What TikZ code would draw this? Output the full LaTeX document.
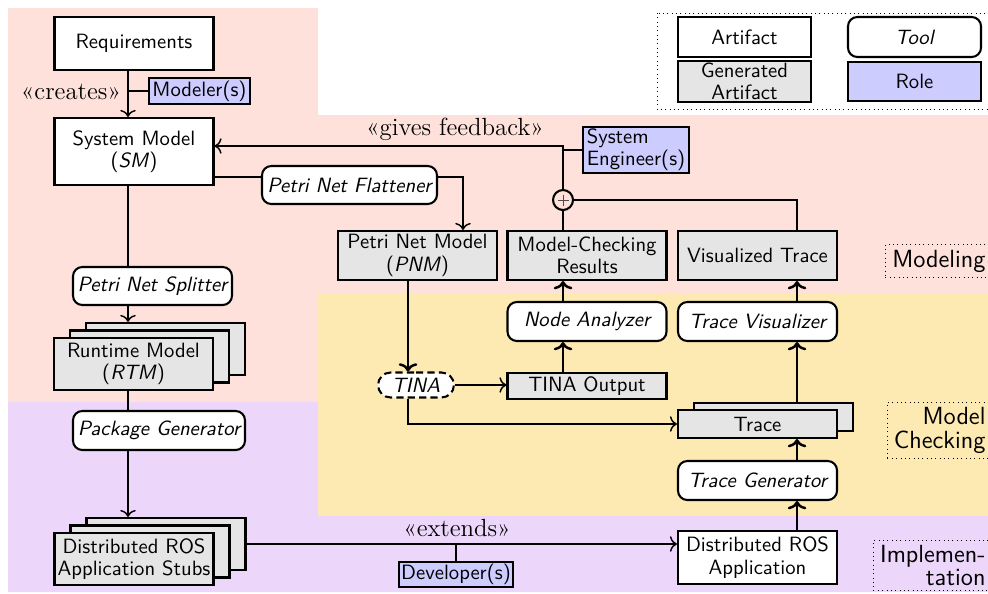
\documentclass[tikz,border=0pt]{standalone}
\usetikzlibrary{calc,shapes.misc,arrows.meta}
\pgfdeclarelayer{regions}
\pgfdeclarelayer{edges}
\pgfsetlayers{regions,edges,main}

\definecolor{modelbg}{RGB}{253,225,218}
\definecolor{checkbg}{RGB}{253,234,178}
\definecolor{implbg}{RGB}{236,214,250}
\definecolor{rolefill}{RGB}{204,204,255}
\definecolor{genfill}{RGB}{229,229,229}

\newcommand{\pxu}{0.017cm}
\newcommand{\nodefont}{\sffamily\fontsize{10}{10.8}\selectfont}

\tikzset{
  sz/.style 2 args={minimum width=#1*\pxu, minimum height=#2*\pxu},
  box/.style={draw, line width=1pt, font=\nodefont, align=center, inner sep=1pt},
  artifact/.style={box, fill=white},
  generated/.style={box, fill=genfill},
  tool/.style={box, fill=white, rounded corners=4.5pt, font=\nodefont\itshape},
  role/.style={box, fill=rolefill},
  link/.style={line width=0.7pt},
  flow/.style={link, -{To[length=3.4pt,width=7.5pt]}},
  mainflow/.style={line width=1.2pt, -{To[length=4pt,width=9pt]}},
  stereo/.style={font=\fontsize{12}{14}\selectfont, inner sep=0pt},
  dots/.style={line width=0.45pt, dash pattern=on 0.45pt off 1.65pt},
  phase/.style={draw, dots, font=\sffamily\fontsize{12}{11.5}\selectfont,
    align=right, inner xsep=5*\pxu, inner ysep=0pt, anchor=north west},
}

\begin{document}
\begin{tikzpicture}[x=\pxu, y=-\pxu]
\useasboundingbox (0,0) rectangle (988,593);

% guide columns and rows for the connectors
\coordinate (spineL) at (128,0);
\coordinate (colF) at (463,0);
\coordinate (colP) at (408,0);
\coordinate (colM) at (563,0);
\coordinate (colV) at (797,0);
\coordinate (fbrow) at (0,146);
\coordinate (flrow) at (0,177);

% legend
\draw[dots] (657,13) rectangle (990,109);
\node[artifact, sz={133}{40}] (lgArt) at (744.5,37) {Artifact};
\node[tool, sz={133}{40}] (lgTool) at (914.5,37) {Tool};
\node[generated, sz={133}{39}] (lgGen) at (744.5,81.5) {Generated\\Artifact};
\node[role, sz={133}{39}] (lgRole) at (914.5,81.5) {Role};

% modeling phase
\node[artifact, sz={159}{53}] (req) at (134,43.5) {Requirements};
\node[role, sz={101}{26}] (modeler) at (199.5,91) {Modeler(s)};
\node[artifact, sz={159}{67}] (sm) at (134,151.5) {System Model\\(\textit{SM})};
\node[tool, sz={175}{38}] (flat) at (349.5,185) {Petri Net Flattener};
\node[role, sz={106}{46}, align=left] (eng) at (636,150) {System\\Engineer(s)};
\node[circle, draw, line width=1pt, minimum size=20*\pxu, inner sep=0pt] (plus) at (563,200) {};
\draw[line width=0.4pt, black!70] ($(plus)+(-5.5,0)$) -- ($(plus)+(5.5,0)$)
  ($(plus)+(0,-5.5)$) -- ($(plus)+(0,5.5)$);
\node[generated, sz={159}{49}] (pnm) at (417.5,255.5) {Petri Net Model\\(\textit{PNM})};
\node[generated, sz={159}{49}] (mcr) at (587,255.5) {Model-Checking\\Results};
\node[generated, sz={159}{49}] (vt) at (757.5,255.5) {Visualized Trace};
\node[tool, sz={159}{38}] (split) at (152.5,286) {Petri Net Splitter};

% runtime model stack
\node[generated, sz={159}{52}] (rtm3) at (165.5,349) {};
\node[generated, sz={159}{52}] (rtm2) at (149.5,356.5) {};
\node[generated, sz={159}{52}] (rtm) at (133.5,364) {Runtime Model\\(\textit{RTM})};

% implementation phase
\node[tool, sz={172}{39}] (pkg) at (159,430.5) {Package Generator};
\node[generated, sz={159}{52}] (stubs3) at (166,544) {};
\node[generated, sz={159}{52}] (stubs2) at (150,551.5) {};
\node[generated, sz={159}{52}] (stubs) at (134,559) {Distributed ROS\\Application Stubs};
\node[role, sz={112}{25}] (dev) at (456,574.5) {Developer(s)};
\node[artifact, sz={159}{53}] (dra) at (757.5,557.5) {Distributed ROS\\Application};

% model checking phase
\node[tool, sz={159}{39}] (tgen) at (757.5,480.5) {Trace Generator};
\node[generated, sz={159}{28}] (trace2) at (773.5,417) {};
\node[generated, sz={159}{28}] (trace) at (757.5,424) {Trace};
\node[tool, sz={159}{39}] (tvis) at (757.5,321.5) {Trace Visualizer};
\node[tool, sz={159}{39}] (nana) at (587,321.5) {Node Analyzer};
\node[generated, sz={159}{26}] (tout) at (587,386) {TINA Output};
\node[rounded rectangle, draw, dash pattern=on 3.5pt off 2pt, line width=1pt, fill=white,
  font=\nodefont\itshape, sz={80}{25}, inner sep=1pt] (tina) at (416,385) {TINA};

% phase labels
\node[phase, text width=95*\pxu, minimum height=33*\pxu] (phMod) at (885,244) {Modeling};
\node[phase, text width=93*\pxu, minimum height=56*\pxu] (phChk) at (887,402) {Model\\Checking};
\node[phase, text width=107*\pxu, minimum height=50*\pxu] (phImp) at (873,540) {Implemen-\\tation};

% stereotypes
\node[stereo] (lblCreates) at (71,92) {«creates»};
\node[stereo] (lblFeedback) at (455,129) {«gives feedback»};
\node[stereo] (lblExtends) at (457,528) {«extends»};

\begin{pgfonlayer}{edges}
\draw[flow] (req.south -| spineL) -- (sm.north -| spineL);
\draw[link] (modeler.west) -- (modeler.west -| spineL);
\draw[flow] (sm.east |- flrow) -- (colF |- flrow) -- (colF |- pnm.north);
\draw[flow] (plus.north) -- (plus |- fbrow) -- (sm.east |- fbrow);
\draw[link] (eng.west) -- (eng.west -| plus);
\draw[link] (plus.south) -- (plus |- mcr.north);
\draw[link] (plus.east) -- (colV |- plus) -- (colV |- vt.north);
\draw[flow] (sm.south -| spineL) -- (rtm3.north -| spineL);
\draw[flow] (rtm.south -| spineL) -- (stubs3.north -| spineL);
\draw[flow] (stubs3.east) -- (stubs3.east -| dra.west);
\draw[link] (dev.north) -- (dev.north |- stubs3.east);
\draw[mainflow] (pnm.south -| colP) -- (tina.north -| colP);
\draw[flow] (tina.east) -- (tina.east -| tout.west);
\draw[flow] (tina.south -| colP) -- (colP |- trace.west) -- (trace.west);
\draw[mainflow] (tout.north -| colM) -- (nana.south -| colM);
\draw[mainflow] (nana.north -| colM) -- (mcr.south -| colM);
\draw[mainflow] (dra.north -| colV) -- (tgen.south -| colV);
\draw[mainflow] (tgen.north -| colV) -- (trace.south -| colV);
\draw[mainflow] (trace2.north -| colV) -- (tvis.south -| colV);
\draw[mainflow] (tvis.north -| colV) -- (vt.south -| colV);
\end{pgfonlayer}

\begin{pgfonlayer}{regions}
\fill[modelbg] (8,8) -- (318,8) -- (318,115) -- (990,115) -- (990,293) -- (318,293)
  -- (318,402) -- (8,402) -- cycle;
\fill[checkbg] (318,293) rectangle (990,516);
\fill[implbg] (8,402) -- (318,402) -- (318,516) -- (990,516) -- (990,592) -- (8,592) -- cycle;
\end{pgfonlayer}
\end{tikzpicture}
\end{document}
